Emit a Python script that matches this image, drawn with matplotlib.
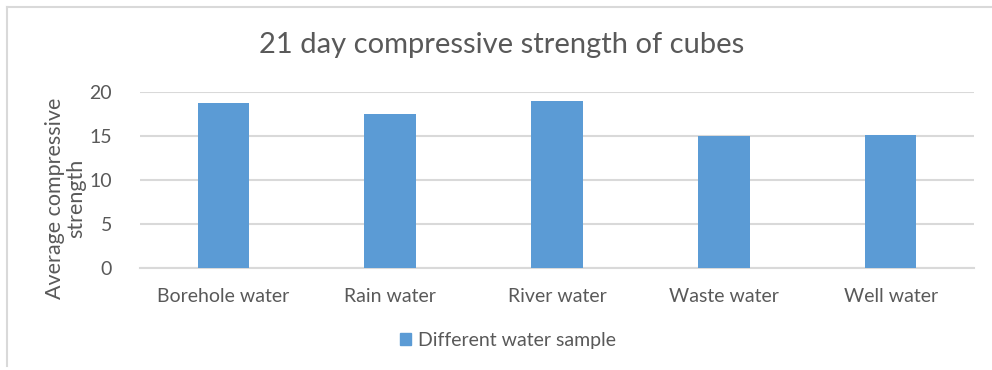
import matplotlib.pyplot as plt
from matplotlib.patches import Patch
from matplotlib.lines import Line2D

categories = ['Borehole water', 'Rain water', 'River water', 'Waste water', 'Well water']
strength = [18.75, 17.5, 19.0, 15.0, 15.15]
series_name = 'Different water sample'

plt.rcParams['font.family'] = ['Lato', 'DejaVu Sans']
text_grey = '#595959'
bar_blue = '#5b9bd5'

fig = plt.figure(figsize=(9.92, 3.70), dpi=100)
ax = fig.add_axes([0.1411, 0.2749, 0.8408, 0.4756])

x = range(len(categories))
ax.bar(x, strength, width=0.31, color=bar_blue, zorder=3)

ax.set_xlim(-0.5, len(categories) - 0.5)
ax.set_ylim(0, 20)
ax.set_yticks([0, 5, 10, 15, 20])
ax.set_xticks(list(x))
ax.set_xticklabels(categories)
ax.tick_params(axis='both', length=0, colors=text_grey, labelsize=14)
ax.tick_params(axis='y', pad=20)
ax.tick_params(axis='x', pad=14)
ax.grid(axis='y', color='#d9d9d9', linewidth=1.5, zorder=0)
for side in ['top', 'right', 'left']:
    ax.spines[side].set_visible(False)
ax.spines['bottom'].set_color('#d9d9d9')
ax.spines['bottom'].set_linewidth(1.5)

# y axis title placed by hand so it sits a little below the axes centre
fig.text(0.066, 0.465, 'Average compressive\nstrength', rotation=90,
         ha='center', va='center', multialignment='center',
         color=text_grey, fontsize=15.5, linespacing=1.1)
fig.text(0.506, 0.878, '21 day compressive strength of cubes', ha='center',
         va='center', color=text_grey, fontsize=21)

fig.legend(handles=[Patch(color=bar_blue, label=series_name)], loc='center',
           bbox_to_anchor=(0.512, 0.08), frameon=False, fontsize=14,
           labelcolor=text_grey, handlelength=0.6, handleheight=0.6,
           handletextpad=0.35)

# chart area border (left and top edges)
fig.add_artist(Line2D([0.007, 0.007], [0.012, 0.981], color='#d9d9d9', lw=1.5))
fig.add_artist(Line2D([0.007, 1.0], [0.981, 0.981], color='#d9d9d9', lw=1.5))

fig.savefig('out.png', dpi=100, facecolor='white')
